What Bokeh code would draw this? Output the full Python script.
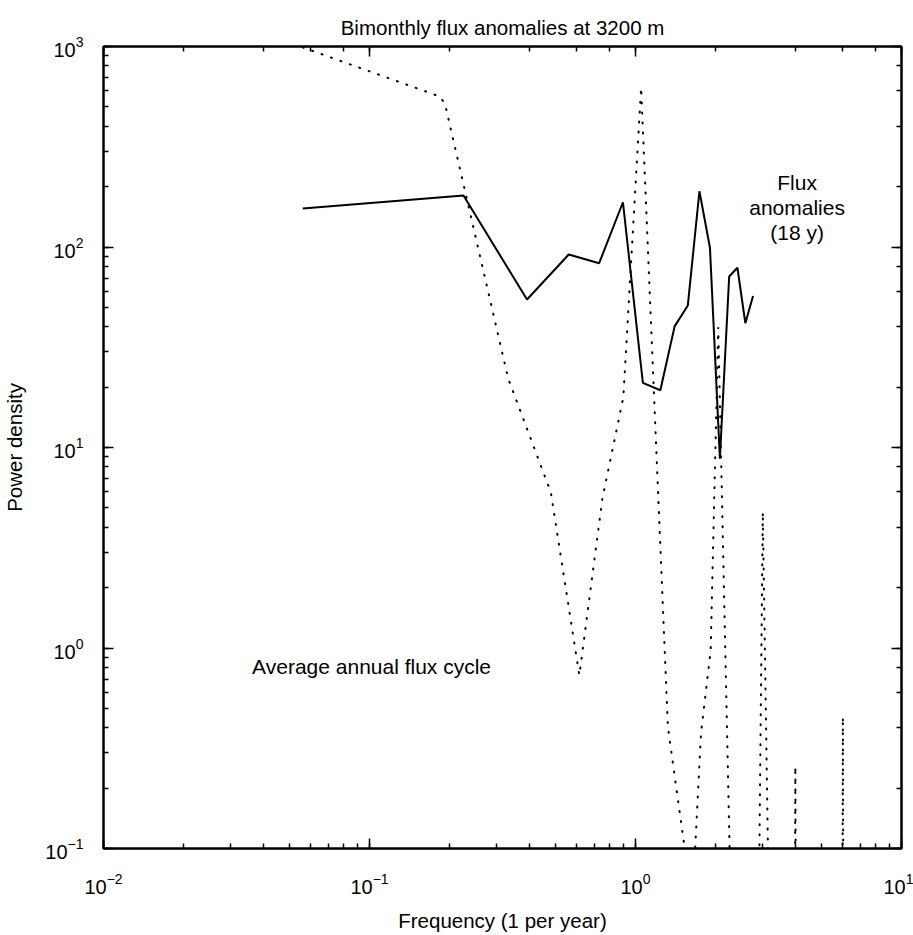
from bokeh.plotting import figure
from bokeh.models import LogAxis, Label, Range1d
from bokeh.embed import file_html
from bokeh.resources import INLINE

# Flux anomalies (18 y) spectrum
anom_freq = [0.0561, 0.2256, 0.391, 0.561, 0.730, 0.897, 1.066, 1.240, 1.403,
             1.573, 1.739, 1.905, 2.076, 2.250, 2.416, 2.588, 2.766]
anom_power = [155.6, 180.6, 54.7, 91.8, 83.0, 167.2, 21.0, 19.3, 40.2,
              51.1, 189.7, 99.1, 8.80, 71.3, 78.8, 41.7, 56.9]

# Average annual flux cycle spectrum
cycle_freq = [0.0561, 0.1846, 0.1925, 0.3321, 0.4806, 0.615, 0.751, 0.900,
              1.050, 1.324, 1.636, 1.763, 1.917, 2.047, 2.345, 2.872, 3.01,
              3.231, 3.96, 3.99, 4.02, 5.98, 6.02, 6.06]
cycle_power = [990, 562, 513, 22.1, 5.97, 0.731, 5.58, 17.8,
               624, 0.403, 0.053, 0.376, 0.975, 39.8, 0.01, 0.01, 4.77,
               0.01, 0.01, 0.257, 0.01, 0.01, 0.453, 0.01]

title_text = "Bimonthly flux anomalies at 3200 m"
x_label = "Frequency (1 per year)"
y_label = "Power density"
FONT = "Liberation Sans"

p = figure(width=913, height=935, x_axis_type="log", y_axis_type="log",
           x_range=Range1d(0.01, 10), y_range=Range1d(0.1, 1000),
           output_backend="svg", toolbar_location=None, title=title_text)
p.min_border_top = 46
p.min_border_bottom = 87
p.min_border_left = 97
p.min_border_right = 12
p.background_fill_color = "white"
p.border_fill_color = "white"
p.outline_line_color = "black"
p.outline_line_width = 2
p.xgrid.visible = False
p.ygrid.visible = False

p.title.align = "center"
p.title.text_font = FONT
p.title.text_font_size = "20.5px"
p.title.text_font_style = "normal"
p.title.text_color = "black"
p.title.standoff = 16


def style(ax, show_labels=True):
    ax.axis_line_width = 2
    ax.axis_line_color = "black"
    ax.major_tick_in = 10
    ax.major_tick_out = 0
    ax.minor_tick_in = 5
    ax.minor_tick_out = 0
    ax.major_tick_line_width = 1.5
    ax.minor_tick_line_width = 1.5
    ax.major_tick_line_color = "black"
    ax.minor_tick_line_color = "black"
    ax.major_label_text_font = FONT
    ax.major_label_text_color = "black"
    ax.axis_label_text_font = FONT
    ax.axis_label_text_font_style = "normal"
    ax.axis_label_text_color = "black"
    if show_labels:
        ax.major_label_text_font_size = "20px"
        ax.axis_label_text_font_size = "20.5px"
    else:
        ax.major_label_text_font_size = "1px"
        ax.major_label_text_alpha = 0
        ax.major_label_standoff = 0


xa = p.xaxis[0]
ya = p.yaxis[0]
style(xa)
style(ya)
xa.axis_label = x_label
ya.axis_label = y_label
xa.major_label_standoff = 24
xa.axis_label_standoff = 12
ya.major_label_standoff = 20
ya.axis_label_standoff = 16

top = LogAxis()
right = LogAxis()
style(top, False)
style(right, False)
p.add_layout(top, "above")
p.add_layout(right, "right")

p.line(cycle_freq, cycle_power, line_color="black", line_width=2,
       line_dash="1 9", line_cap="round")
p.line(anom_freq, anom_power, line_color="black", line_width=2)

for txt, yy in [("Flux", 210), ("anomalies", 158), ("(18 y)", 118.6)]:
    p.add_layout(Label(x=4.05, y=yy, text=txt, text_align="center",
                       text_baseline="alphabetic", text_font=FONT,
                       text_font_size="21px", text_color="black"))

p.add_layout(Label(x=0.0362, y=0.804, text="Average annual flux cycle",
                   text_align="left", text_baseline="alphabetic",
                   text_font=FONT, text_font_size="21px", text_color="black"))

open("out.html", "w").write(file_html(p, INLINE))
